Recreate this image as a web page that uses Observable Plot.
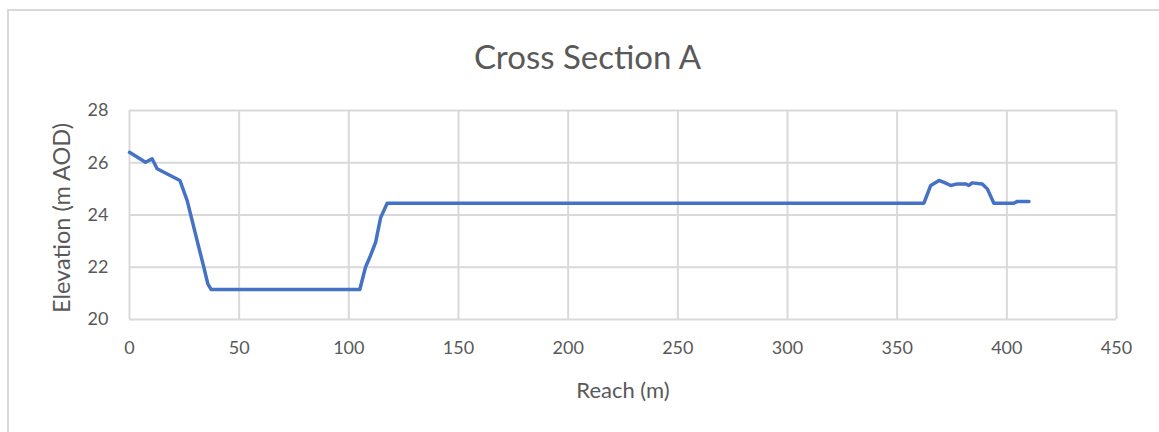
<!DOCTYPE html>
<html>
<head>
<meta charset="utf-8">
<script src="https://cdn.jsdelivr.net/npm/d3@7"></script>
<script src="https://cdn.jsdelivr.net/npm/@observablehq/plot@0.6"></script>
<style>
  body { margin: 0; background: #fff; }
  #wrap { position: relative; width: 1159px; height: 432px; overflow: hidden; font-family: Lato, "Open Sans", sans-serif; }
  #frame { position: absolute; left: 7px; top: 9px; width: 1300px; height: 600px; border-top: 2px solid #d9d9d9; border-left: 2px solid #d9d9d9; }
  #title { position: relative; height: 90px; box-sizing: border-box; padding-top: 36px; text-align: center; font-size: 33px; line-height: 40px; color: #595959; padding-left: 16px; }
  #chart { position: relative; }
</style>
</head>
<body>
<div id="wrap">
  <div id="frame"></div>
  <div id="title">Cross Section A</div>
  <div id="chart"></div>
</div>
<script>
const reach = [0, 7.3, 10.3, 12.6, 23, 26.3, 27.8, 31.6, 33.9, 35.7, 37.2, 105, 107.6, 109.9, 112.2, 114.5, 117.5, 362.2, 365.3, 369.1, 371.4, 374.4, 377.4, 381.2, 382.7, 384.2, 388.8, 391.1, 394.1, 403.2, 404.8, 410.1];
const elevation = [26.4, 26.02, 26.15, 25.77, 25.32, 24.55, 24.04, 22.76, 22.0, 21.36, 21.15, 21.15, 22.0, 22.45, 22.95, 23.9, 24.45, 24.45, 25.13, 25.32, 25.25, 25.13, 25.19, 25.19, 25.13, 25.23, 25.19, 25.0, 24.45, 24.45, 24.52, 24.52];
const xTicks = [0, 50, 100, 150, 200, 250, 300, 350, 400, 450];
const yTicks = [20, 22, 24, 26, 28];
const xLabel = "Reach (m)";
const yLabel = "Elevation (m AOD)";

const data = reach.map((r, i) => ({reach: r, elevation: elevation[i]}));
const textColor = "#595959";
const gridColor = "#d9d9d9";

const chart = Plot.plot({
  width: 1159,
  height: 342,
  marginTop: 20,
  marginLeft: 129,
  marginRight: 43,
  marginBottom: 113,
  style: { fontFamily: "Lato, 'Open Sans', sans-serif", fontSize: "18px", color: textColor, background: "transparent", overflow: "visible" },
  x: { domain: [0, 450], ticks: xTicks, tickSize: 0, tickPadding: 22, label: null },
  y: { domain: [20, 28], ticks: yTicks, tickSize: 0, tickPadding: 21, label: null },
  marks: [
    Plot.gridX(xTicks, { stroke: gridColor, strokeOpacity: 1, strokeWidth: 2 }),
    Plot.gridY(yTicks, { stroke: gridColor, strokeOpacity: 1, strokeWidth: 2 }),
    Plot.line(data, { x: "reach", y: "elevation", stroke: "#4472C4", strokeWidth: 3.5, strokeLinejoin: "round", strokeLinecap: "round" }),
    Plot.text([xLabel], { frameAnchor: "bottom", dy: 71, textAnchor: "middle", lineAnchor: "middle", fontSize: 22, fill: textColor }),
    Plot.text([yLabel], { frameAnchor: "left", dx: -67, dy: 3, rotate: -90, textAnchor: "middle", lineAnchor: "middle", fontSize: 23.5, fill: textColor })
  ]
});
document.getElementById("chart").appendChild(chart);
</script>
</body>
</html>
